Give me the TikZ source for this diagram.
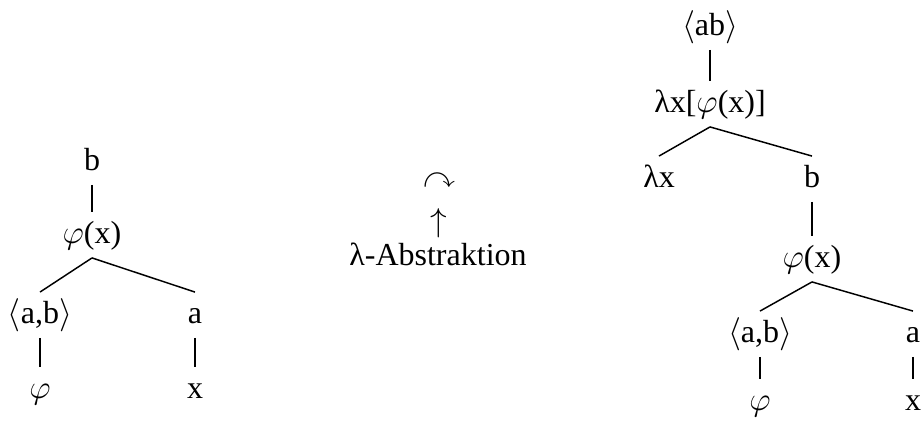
\documentclass[tikz,border=0pt]{standalone}
\usepackage{amssymb}
\usepackage{fontspec}
\setmainfont{Liberation Serif}
\usetikzlibrary{positioning}

\begin{document}
\begin{tikzpicture}[
  x=0.75pt, y=-0.75pt,
  tn/.style={font=\fontsize{24}{29}\selectfont,inner sep=3pt,
             text height=20pt,text depth=8pt,anchor=base},
  mid/.style={font=\fontsize{24}{29}\selectfont,inner sep=0pt},
  br/.style={line width=1.1pt}
]
  \useasboundingbox (0,0) rectangle (923,421);

  % left tree
  \node[tn] (lb)    at (92,170)  {b};
  \node[tn] (lphi)  at (92,243)  {$\varphi$(x)};
  \node[tn] (lpair) at (40,323)  {$\langle$a,b$\rangle$};
  \node[tn] (la)    at (195,323) {a};
  \node[tn] (lvphi) at (40,398)  {$\varphi$};
  \node[tn] (lx)    at (195,398) {x};

  \draw[br] (lb) -- (lphi);
  \draw[br] (lphi.south) -- (lpair.north);
  \draw[br] (lphi.south) -- (la.north);
  \draw[br] (lpair) -- (lvphi);
  \draw[br] (la) -- (lx);

  % middle
  \node[mid] (curv) at (439,181) {$\curvearrowright$};
  \node[mid] (up)   at (439,223) {$\uparrow$};
  \node[mid,anchor=base] (abst) at (438,265) {λ-Abstraktion};

  % right tree
  \node[tn] (rab)   at (710,35)  {$\langle$ab$\rangle$};
  \node[tn] (rlam)  at (710,112) {λx[$\varphi$(x)]};
  \node[tn] (rlx)   at (659,187) {λx};
  \node[tn] (rb)    at (812,187) {b};
  \node[tn] (rphi)  at (812,267) {$\varphi$(x)};
  \node[tn] (rpair) at (760,342) {$\langle$a,b$\rangle$};
  \node[tn] (ra)    at (913,342) {a};
  \node[tn] (rvphi) at (760,410) {$\varphi$};
  \node[tn] (rx)    at (913,410) {x};

  \draw[br] (rab) -- (rlam);
  \draw[br] (rlam.south) -- (rlx.north);
  \draw[br] (rlam.south) -- (rb.north);
  \draw[br] (rb) -- (rphi);
  \draw[br] (rphi.south) -- (rpair.north);
  \draw[br] (rphi.south) -- (ra.north);
  \draw[br] (rpair) -- (rvphi);
  \draw[br] (ra) -- (rx);
\end{tikzpicture}
\end{document}
